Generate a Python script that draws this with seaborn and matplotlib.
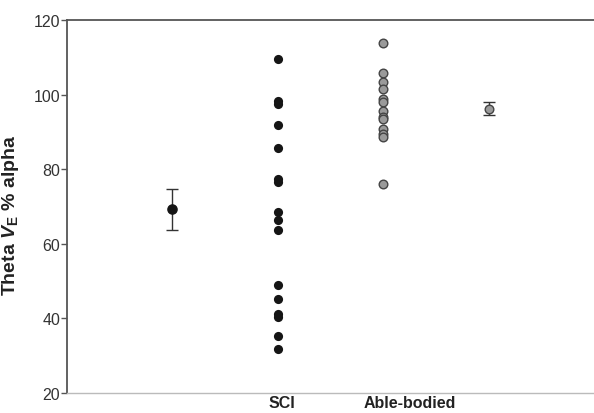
import numpy as np
import pandas as pd
import matplotlib.pyplot as plt
import seaborn as sns

# Individual values
sci_values = [109.5, 98.2, 97.6, 91.8, 85.7, 77.3, 76.5, 68.6, 66.4, 63.7,
              49.0, 45.1, 41.2, 40.5, 35.2, 31.7]
ab_values = [113.7, 105.8, 103.5, 101.5, 98.8, 97.9, 95.7, 93.9, 93.5,
             90.8, 89.4, 88.5, 76.0]

# Group means and SEM as drawn next to the dots
sci_mean, sci_sem = 69.2, 5.6
ab_mean, ab_sem = 96.2, 1.8

group_labels = ['SCI', 'Able-bodied']

sns.set_style('ticks')
plt.rcParams['font.family'] = ['Liberation Sans', 'DejaVu Sans']
plt.rcParams['mathtext.fontset'] = 'custom'
plt.rcParams['mathtext.rm'] = 'Liberation Sans'
plt.rcParams['mathtext.it'] = 'Liberation Sans:italic'
plt.rcParams['mathtext.bf'] = 'Liberation Sans:bold'
plt.rcParams['mathtext.bfit'] = 'Liberation Sans:bold:italic'

fig = plt.figure(figsize=(5.94, 4.14), dpi=100)
ax = fig.add_axes([0.1128, 0.0483, 0.8872, 0.901])

# x layout: SCI mean, SCI dots, able-bodied dots, able-bodied mean
pos = {'sci_mean': 2, 'sci': 4, 'ab': 6, 'ab_mean': 8}

df_sci = pd.DataFrame({'x': float(pos['sci']), 'value': sci_values})
df_ab = pd.DataFrame({'x': float(pos['ab']), 'value': ab_values})

sns.stripplot(data=df_sci, x='x', y='value', native_scale=True, orient='x',
              jitter=False, color='#151515', size=6.6, linewidth=0, ax=ax)
sns.stripplot(data=df_ab, x='x', y='value', native_scale=True, orient='x',
              jitter=False, color='#9a9a9a', edgecolor='#444444',
              size=6.2, linewidth=1.0, ax=ax)

ax.errorbar(pos['sci_mean'], sci_mean, yerr=sci_sem, fmt='o', color='#151515',
            ms=6.6, ecolor='#333333', elinewidth=1.0, capsize=4.5, capthick=1.0,
            zorder=3)
ax.errorbar(pos['ab_mean'], ab_mean, yerr=ab_sem, fmt='o', mfc='#9a9a9a',
            mec='#444444', mew=1.0, ms=6.2, ecolor='#333333', elinewidth=1.0,
            capsize=4.5, capthick=1.0, zorder=3)

ax.set_xlim(0, 10)
ax.set_ylim(20, 120)
ax.set_yticks([20, 40, 60, 80, 100, 120])
ax.set_xticks([4.08, 6.51])
ax.set_xticklabels(group_labels, fontweight='bold', fontsize=11.5, color='#222222')
ax.tick_params(axis='x', length=0, pad=1.5)
ax.tick_params(axis='y', length=4, width=1.0, color='#555555',
               labelsize=11.5, labelcolor='#333333', pad=1)

ax.set_xlabel('')
ax.set_ylabel(r'Theta $\mathbfit{V}_{\mathbf{E}}$ % alpha', fontsize=14,
              fontweight='bold', color='#222222')
ax.yaxis.set_label_coords(-0.087, 0.48)

for side in ['left', 'top']:
    ax.spines[side].set_color('#555555')
    ax.spines[side].set_linewidth(1.3)
ax.spines['bottom'].set_color('#bbbbbb')
ax.spines['bottom'].set_linewidth(1.0)
ax.spines['right'].set_visible(False)
ax.spines['top'].set_visible(True)

fig.savefig('out.png', dpi=100)
